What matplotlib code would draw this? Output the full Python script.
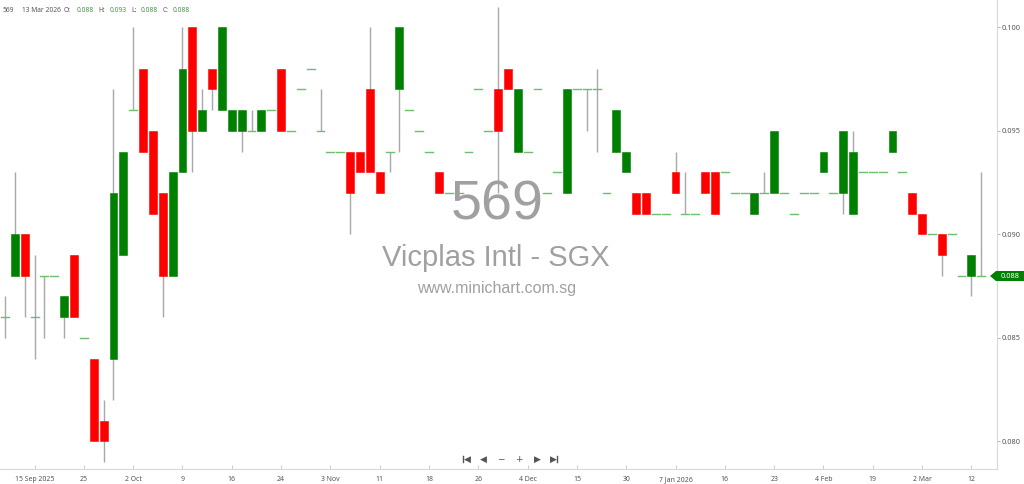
import numpy as np
import matplotlib
matplotlib.use('Agg')
import matplotlib.pyplot as plt
from matplotlib.patches import Rectangle, Polygon
from matplotlib.lines import Line2D

# OHLC, one row per trading session
opens = [0.086, 0.088, 0.090, 0.086, 0.088, 0.088, 0.086, 0.089, 0.085, 0.084,
         0.081, 0.084, 0.089, 0.096, 0.098, 0.095, 0.092, 0.088, 0.093, 0.100,
         0.095, 0.098, 0.096, 0.095, 0.095, 0.095, 0.095, 0.096, 0.098, 0.095,
         0.097, 0.098, 0.095, 0.094, 0.094, 0.094, 0.094, 0.097, 0.093, 0.094,
         0.097, 0.096, 0.095, 0.094, 0.093, 0.092, 0.092, 0.094, 0.097, 0.095,
         0.097, 0.098, 0.094, 0.094, 0.097, 0.092, 0.093, 0.092, 0.097, 0.097,
         0.097, 0.092, 0.094, 0.093, 0.092, 0.092, 0.091, 0.091, 0.093, 0.091,
         0.091, 0.093, 0.093, 0.093, 0.092, 0.092, 0.091, 0.092, 0.092, 0.092,
         0.091, 0.092, 0.092, 0.093, 0.092, 0.092, 0.091, 0.093, 0.093, 0.093,
         0.094, 0.093, 0.092, 0.091, 0.090, 0.090, 0.090, 0.088, 0.088, 0.088]
highs = [0.087, 0.093, 0.090, 0.089, 0.088, 0.088, 0.087, 0.089, 0.085, 0.084,
         0.082, 0.097, 0.094, 0.100, 0.098, 0.095, 0.092, 0.093, 0.100, 0.100,
         0.097, 0.098, 0.100, 0.096, 0.096, 0.096, 0.096, 0.096, 0.098, 0.095,
         0.097, 0.098, 0.097, 0.094, 0.094, 0.094, 0.094, 0.100, 0.093, 0.094,
         0.100, 0.096, 0.095, 0.094, 0.093, 0.092, 0.092, 0.094, 0.097, 0.095,
         0.101, 0.098, 0.097, 0.094, 0.097, 0.092, 0.093, 0.097, 0.097, 0.097,
         0.098, 0.092, 0.096, 0.094, 0.092, 0.092, 0.091, 0.091, 0.094, 0.093,
         0.091, 0.093, 0.093, 0.093, 0.092, 0.092, 0.092, 0.093, 0.095, 0.092,
         0.091, 0.092, 0.092, 0.094, 0.092, 0.095, 0.095, 0.093, 0.093, 0.093,
         0.095, 0.093, 0.092, 0.091, 0.090, 0.090, 0.090, 0.088, 0.089, 0.093]
lows = [0.085, 0.088, 0.086, 0.084, 0.085, 0.088, 0.085, 0.086, 0.085, 0.080,
        0.079, 0.082, 0.089, 0.096, 0.094, 0.091, 0.086, 0.088, 0.093, 0.093,
        0.095, 0.096, 0.096, 0.095, 0.094, 0.095, 0.095, 0.096, 0.095, 0.095,
        0.097, 0.098, 0.095, 0.094, 0.094, 0.090, 0.093, 0.093, 0.092, 0.093,
        0.094, 0.096, 0.095, 0.094, 0.092, 0.092, 0.092, 0.094, 0.097, 0.095,
        0.092, 0.097, 0.094, 0.094, 0.097, 0.092, 0.093, 0.092, 0.097, 0.095,
        0.094, 0.092, 0.094, 0.093, 0.091, 0.091, 0.091, 0.091, 0.092, 0.091,
        0.091, 0.092, 0.091, 0.093, 0.092, 0.092, 0.091, 0.092, 0.092, 0.092,
        0.091, 0.092, 0.092, 0.093, 0.092, 0.091, 0.091, 0.093, 0.093, 0.093,
        0.094, 0.093, 0.091, 0.090, 0.090, 0.088, 0.090, 0.088, 0.087, 0.088]
closes = [0.086, 0.090, 0.088, 0.086, 0.088, 0.088, 0.087, 0.086, 0.085, 0.080,
          0.080, 0.092, 0.094, 0.096, 0.094, 0.091, 0.088, 0.093, 0.098, 0.095,
          0.096, 0.097, 0.100, 0.096, 0.096, 0.095, 0.096, 0.096, 0.095, 0.095,
          0.097, 0.098, 0.095, 0.094, 0.094, 0.092, 0.093, 0.093, 0.092, 0.094,
          0.100, 0.096, 0.095, 0.094, 0.092, 0.092, 0.092, 0.094, 0.097, 0.095,
          0.095, 0.097, 0.097, 0.094, 0.097, 0.092, 0.093, 0.097, 0.097, 0.097,
          0.097, 0.092, 0.096, 0.094, 0.091, 0.091, 0.091, 0.091, 0.092, 0.091,
          0.091, 0.092, 0.091, 0.093, 0.092, 0.092, 0.092, 0.092, 0.095, 0.092,
          0.091, 0.092, 0.092, 0.094, 0.092, 0.095, 0.094, 0.093, 0.093, 0.093,
          0.095, 0.093, 0.091, 0.090, 0.090, 0.089, 0.090, 0.088, 0.089, 0.088]

tick_idx = list(range(3, 100, 5))
tick_labels = ['15 Sep 2025', '25', '2 Oct', '9', '16', '24', '3 Nov', '11', '18', '26',
               '4 Dec', '15', '30', '7 Jan 2026', '16', '23', '4 Feb', '19', '2 Mar', '12']
price_ticks = [0.080, 0.085, 0.090, 0.095, 0.100]

GREEN = '#008000'
RED = '#ff0000'
DASH = '#6cbf6c'
WICK = '#a8a8a8'
LABEL_FONT = 'Noto Sans'
W, H = 1024, 484

fig = plt.figure(figsize=(W / 100, H / 100), dpi=100)
ax = fig.add_axes([0, 15 / H, 997 / W, 469 / H])

bw = 0.8
for i in range(len(opens)):
    o, h, l, c = opens[i], highs[i], lows[i], closes[i]
    if h > l:
        ax.plot([i, i], [l, h], color=WICK, lw=1.0, zorder=1, solid_capstyle='butt')
    if c == o:
        ax.plot([i - bw / 2, i + bw / 2], [c, c], color=DASH, lw=1.0, zorder=2)
    else:
        col = GREEN if c > o else RED
        ax.add_patch(Rectangle((i - bw / 2, min(o, c)), bw, abs(c - o),
                               facecolor=col, edgecolor=col, lw=0.4, zorder=2))

ax.set_xlim(-0.507, 100.6)
ax.set_ylim(0.078662, 0.10132)

ax.set_xticks(tick_idx)
ax.set_xticklabels(tick_labels)
ax.yaxis.tick_right()
ax.set_yticks(price_ticks)
ax.set_yticklabels(['%.3f' % p for p in price_ticks])
ax.tick_params(axis='x', direction='in', length=3, color='#d0d0d0', pad=5,
               labelsize=5, labelcolor='#555555')
ax.tick_params(axis='y', direction='out', length=2, color='#bbbbbb', pad=1.5,
               labelsize=5.3, labelcolor='#555555')
for lab in ax.get_xticklabels() + ax.get_yticklabels():
    lab.set_family(LABEL_FONT)
for s in ['top', 'left']:
    ax.spines[s].set_visible(False)
for s in ['bottom', 'right']:
    ax.spines[s].set_color('#d8d8d8')
    ax.spines[s].set_linewidth(0.8)

# watermark
fig.text(497 / W, 1 - 205 / H, '569', ha='center', va='center', fontsize=40,
         color='#a0a0a0', family='Liberation Sans')
fig.text(496 / W, 1 - 258 / H, 'Vicplas Intl - SGX', ha='center', va='center', fontsize=21,
         color='#a0a0a0', family='Liberation Sans')
fig.text(497 / W, 1 - 289 / H, 'www.minichart.com.sg', ha='center', va='center', fontsize=11.5,
         color='#a0a0a0', family='Liberation Sans')

# header
hdr = [(3, '569', '#555555'), (22, '13 Mar 2026', '#555555'), (64, 'O:', '#555555'),
       (77, '%.3f' % opens[-1], '#3aa03a'), (98, 'H:', '#555555'), (110, '%.3f' % highs[-1], '#3aa03a'),
       (131, 'L:', '#555555'), (141, '%.3f' % lows[-1], '#3aa03a'), (163, 'C:', '#555555'),
       (173, '%.3f' % closes[-1], '#3aa03a')]
for x, t, col in hdr:
    fig.text(x / W, 1 - 10 / H, t, ha='left', va='center', fontsize=4.8, color=col, family=LABEL_FONT)

# navigation buttons (first/last arrows built from a bar plus triangle)
yb = 1 - 459 / H
for x, t in [(483, '◀'), (501, '−'), (519, '+'), (537, '▶')]:
    fig.text(x / W, yb, t, ha='center', va='center', fontsize=6.5, color='#555555',
             family=['DejaVu Sans', 'Noto Sans'])
fig.text(467 / W, yb, '◀', ha='center', va='center', fontsize=6.5, color='#555555')
fig.text(553 / W, yb, '▶', ha='center', va='center', fontsize=6.5, color='#555555')
for xb in [463, 557]:
    fig.lines.append(Line2D([xb / W, xb / W], [yb - 3 / H, yb + 3 / H], transform=fig.transFigure,
                            color='#555555', lw=1.0))

# last price tag
yp = 1 - 276 / H
tag = Polygon([(990 / W, yp), (996 / W, yp + 5 / H), (1024 / W, yp + 5 / H),
               (1024 / W, yp - 5 / H), (996 / W, yp - 5 / H)], closed=True,
              transform=fig.transFigure, facecolor=GREEN, edgecolor='none')
fig.patches.append(tag)
fig.text(1010 / W, yp, '%.3f' % closes[-1], ha='center', va='center', fontsize=5.3,
         color='white', weight='bold', family=LABEL_FONT)

fig.savefig('out.png', dpi=100)
